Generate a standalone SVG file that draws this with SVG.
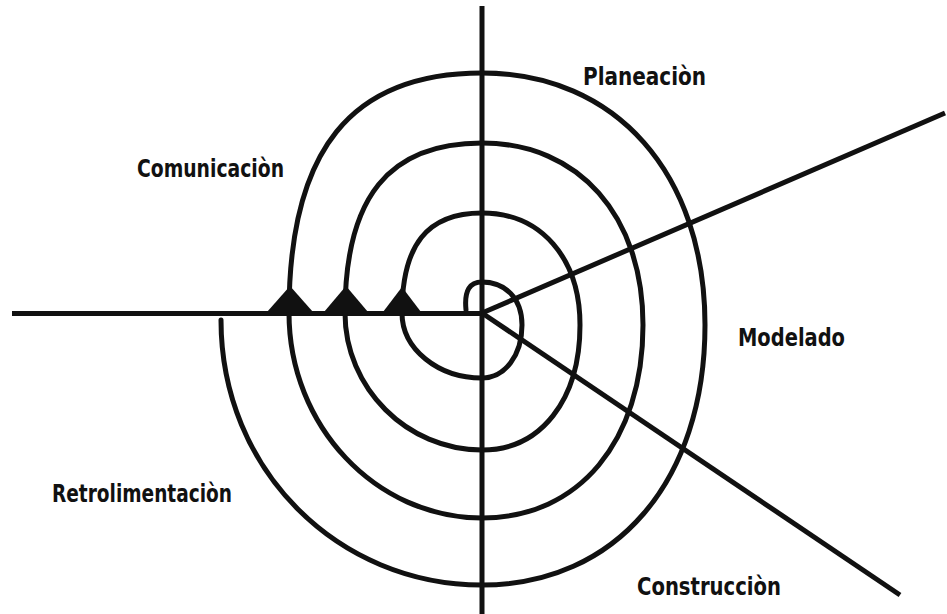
<svg xmlns="http://www.w3.org/2000/svg" width="947" height="614" viewBox="0 0 947 614">
<style>
.ln{fill:none;stroke:#111;stroke-width:5;stroke-linecap:butt}
.sp{fill:none;stroke:#111;stroke-width:5;stroke-linecap:round}
.ar{fill:#111}
.lb{font-family:"DejaVu Sans Condensed","DejaVu Sans",sans-serif;font-weight:bold;font-size:25px;fill:#111}
</style>
<rect width="947" height="614" fill="#fff"/>
<g id="axes">
<line class="ln" x1="482" y1="6" x2="482" y2="614"/>
<line class="ln" x1="12" y1="313.5" x2="482" y2="313.5"/>
<line class="ln" x1="482" y1="313" x2="945" y2="113"/>
<line class="ln" x1="482" y1="313" x2="900" y2="595"/>
</g>
<g id="spiral">
<path class="sp" d="M466 310 C464 290 470 282 482 282 C505 282 522 298 522 325 C522 355 505 378 482 378 C438 378 402 349 402 313
C402 245 427 213 482 213 C541 213 580 258 580 325 C580 400 541 450 482 450 C407 450 345 388 345 313
C345 197 389 143 482 143 C579 143 643 216 643 325 C643 441 579 518 482 518 C376 518 289 426 289 313
C289 150 351 73 482 73 C616 73 705 174 705 325 C705 481 616 585 482 585 C338 585 221 470 221 320"/>
</g>
<g id="arrows">
<path class="ar" d="M267 312 L290 286 L313 312 Z"/>
<path class="ar" d="M324 312 L346 286 L368 312 Z"/>
<path class="ar" d="M383 312 L402 287 L421 312 Z"/>
</g>
<g id="label-planeacion"><text class="lb" x="583" y="85" textLength="123" lengthAdjust="spacingAndGlyphs">Planeaciòn</text></g>
<g id="label-comunicacion"><text class="lb" x="137" y="177" textLength="147" lengthAdjust="spacingAndGlyphs">Comunicaciòn</text></g>
<g id="label-modelado"><text class="lb" x="738" y="346" textLength="107" lengthAdjust="spacingAndGlyphs">Modelado</text></g>
<g id="label-retrolimentacion"><text class="lb" x="52" y="502" textLength="180" lengthAdjust="spacingAndGlyphs">Retrolimentaciòn</text></g>
<g id="label-construccion"><text class="lb" x="637" y="595" textLength="144" lengthAdjust="spacingAndGlyphs">Construcciòn</text></g>
</svg>
